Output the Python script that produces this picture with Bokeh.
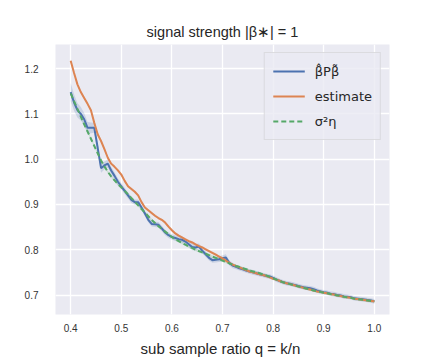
from bokeh.plotting import figure
from bokeh.models import ColumnDataSource, FixedTicker, Range1d, Legend, LegendItem, PrintfTickFormatter
from bokeh.embed import file_html
from bokeh.resources import INLINE

# sub sample ratio q = k/n, k = 60..150, n = 150
k_values = list(range(60, 151))
n_total = 150

blue_vals = [
    1.148, 1.125, 1.108, 1.100, 1.088, 1.069, 1.069, 1.069, 1.025, 0.980,
    0.986, 0.990, 0.975, 0.963, 0.950, 0.940, 0.930, 0.920, 0.910, 0.905,
    0.905, 0.893, 0.880, 0.866, 0.857, 0.856, 0.855, 0.847, 0.838, 0.832,
    0.828, 0.826, 0.823, 0.822, 0.818, 0.812, 0.806, 0.805, 0.807, 0.798,
    0.790, 0.782, 0.777, 0.778, 0.779, 0.781, 0.783, 0.771, 0.765, 0.762,
    0.759, 0.757, 0.754, 0.752, 0.750, 0.748, 0.746, 0.744, 0.742, 0.741,
    0.738, 0.734, 0.731, 0.728, 0.726, 0.725, 0.723, 0.721, 0.719, 0.717,
    0.716, 0.715, 0.713, 0.710, 0.708, 0.706, 0.705, 0.703, 0.702, 0.700,
    0.699, 0.697, 0.696, 0.695, 0.693, 0.692, 0.691, 0.690, 0.689, 0.688,
    0.686,
]
blue_err = [
    0.020, 0.018, 0.016, 0.015, 0.014, 0.013, 0.012, 0.011, 0.010, 0.010,
    0.009, 0.009, 0.008, 0.008, 0.008, 0.007, 0.007, 0.007, 0.007, 0.006,
    0.006, 0.006, 0.006, 0.006, 0.006, 0.006, 0.006, 0.006, 0.006, 0.006,
    0.006, 0.006, 0.006, 0.006, 0.006, 0.006, 0.007, 0.007, 0.007, 0.006,
    0.006, 0.006, 0.006, 0.006, 0.006, 0.007, 0.007, 0.006, 0.006, 0.005,
    0.005, 0.005, 0.005, 0.005, 0.005, 0.005, 0.005, 0.005, 0.005, 0.005,
    0.005, 0.005, 0.005, 0.005, 0.005, 0.005, 0.005, 0.005, 0.005, 0.005,
    0.005, 0.005, 0.005, 0.005, 0.005, 0.005, 0.005, 0.005, 0.005, 0.005,
    0.005, 0.005, 0.005, 0.005, 0.005, 0.005, 0.005, 0.005, 0.005, 0.005,
    0.005,
]
orange_vals = [
    1.217, 1.190, 1.165, 1.148, 1.135, 1.122, 1.108, 1.080, 1.055, 1.040,
    1.022, 1.003, 0.990, 0.983, 0.975, 0.966, 0.952, 0.940, 0.934, 0.928,
    0.920, 0.905, 0.893, 0.887, 0.881, 0.875, 0.870, 0.866, 0.860, 0.851,
    0.843, 0.836, 0.831, 0.827, 0.823, 0.819, 0.816, 0.812, 0.808, 0.805,
    0.801, 0.797, 0.793, 0.789, 0.785, 0.781, 0.776, 0.771, 0.767, 0.764,
    0.761, 0.758, 0.755, 0.752, 0.750, 0.748, 0.746, 0.744, 0.742, 0.739,
    0.736, 0.734, 0.731, 0.728, 0.726, 0.724, 0.722, 0.720, 0.718, 0.716,
    0.714, 0.712, 0.710, 0.708, 0.707, 0.705, 0.704, 0.702, 0.701, 0.699,
    0.698, 0.696, 0.695, 0.694, 0.692, 0.691, 0.690, 0.689, 0.688, 0.687,
    0.686,
]
green_vals = [
    1.145, 1.128, 1.111, 1.094, 1.077, 1.061, 1.045, 1.029, 1.013, 0.997,
    0.984, 0.972, 0.962, 0.953, 0.945, 0.938, 0.930, 0.922, 0.914, 0.906,
    0.898, 0.890, 0.882, 0.874, 0.866, 0.859, 0.852, 0.846, 0.840, 0.834,
    0.828, 0.823, 0.819, 0.815, 0.811, 0.807, 0.804, 0.800, 0.797, 0.794,
    0.791, 0.788, 0.785, 0.782, 0.779, 0.776, 0.773, 0.770, 0.767, 0.764,
    0.762, 0.759, 0.757, 0.754, 0.752, 0.750, 0.748, 0.745, 0.743, 0.740,
    0.737, 0.734, 0.731, 0.728, 0.726, 0.724, 0.722, 0.720, 0.718, 0.716,
    0.714, 0.712, 0.710, 0.708, 0.707, 0.705, 0.704, 0.702, 0.701, 0.699,
    0.698, 0.696, 0.695, 0.694, 0.692, 0.691, 0.690, 0.689, 0.688, 0.687,
    0.686,
]
line_err = 0.003

x_ticks = [0.4, 0.5, 0.6, 0.7, 0.8, 0.9, 1.0]
y_ticks = [0.7, 0.8, 0.9, 1.0, 1.1, 1.2]

title_text = "signal strength |β∗| = 1"
x_label = "sub sample ratio  q = k/n"
labels = ["β̂Pβ̃", "estimate", "σ²η"]

BLUE = "#4c72b0"
ORANGE = "#dd8452"
GREEN = "#55a868"

q = [k / n_total for k in k_values]
src = ColumnDataSource(dict(
    q=q,
    blue=blue_vals,
    blue_lo=[v - e for v, e in zip(blue_vals, blue_err)],
    blue_hi=[v + e for v, e in zip(blue_vals, blue_err)],
    orange=orange_vals,
    orange_lo=[v - line_err for v in orange_vals],
    orange_hi=[v + line_err for v in orange_vals],
    green=green_vals,
    green_lo=[v - line_err for v in green_vals],
    green_hi=[v + line_err for v in green_vals],
))

p = figure(width=432, height=360, output_backend="svg", toolbar_location=None,
           x_range=Range1d(0.37, 1.03), y_range=Range1d(0.657, 1.253),
           min_border_left=55, min_border_right=43, min_border_top=44, min_border_bottom=46,
           title=title_text)

p.background_fill_color = "#eaeaf2"
p.border_fill_color = "white"
p.outline_line_color = None

p.title.align = "center"
p.title.text_font = "Liberation Sans"
p.title.text_font_size = "14.5px"
p.title.text_font_style = "normal"
p.title.text_color = "#262626"
p.title.standoff = 10

for ax in (p.xaxis[0], p.yaxis[0]):
    ax.axis_line_color = None
    ax.major_tick_line_color = None
    ax.minor_tick_line_color = None
    ax.major_label_text_font = "Liberation Sans"
    ax.major_label_text_font_size = "10px"
    ax.major_label_text_color = "#333333"
    ax.formatter = PrintfTickFormatter(format="%.1f")

p.xaxis.ticker = FixedTicker(ticks=x_ticks)
p.yaxis.ticker = FixedTicker(ticks=y_ticks)
p.xaxis.major_label_standoff = 3
p.yaxis.major_label_standoff = 11
p.xaxis.axis_label = x_label
p.xaxis.axis_label_text_font = "Liberation Sans"
p.xaxis.axis_label_text_font_size = "15px"
p.xaxis.axis_label_text_font_style = "normal"
p.xaxis.axis_label_text_color = "#262626"
p.xaxis.axis_label_standoff = 5

p.xgrid.grid_line_color = "white"
p.ygrid.grid_line_color = "white"
p.xgrid.grid_line_width = 1.3
p.ygrid.grid_line_width = 1.3

p.varea(x="q", y1="blue_lo", y2="blue_hi", source=src, fill_color=BLUE, fill_alpha=0.2)
p.varea(x="q", y1="orange_lo", y2="orange_hi", source=src, fill_color=ORANGE, fill_alpha=0.2)
p.varea(x="q", y1="green_lo", y2="green_hi", source=src, fill_color=GREEN, fill_alpha=0.2)

r_blue = p.line(x="q", y="blue", source=src, line_color=BLUE, line_width=2)
r_orange = p.line(x="q", y="orange", source=src, line_color=ORANGE, line_width=2)
r_green = p.line(x="q", y="green", source=src, line_color=GREEN, line_width=2, line_dash="5 3")

legend = Legend(items=[
    LegendItem(label=labels[0], renderers=[r_blue]),
    LegendItem(label=labels[1], renderers=[r_orange]),
    LegendItem(label=labels[2], renderers=[r_green]),
], location="top_right")
legend.margin = 8
legend.padding = 8
legend.spacing = 5
legend.glyph_width = 32
legend.glyph_height = 20
legend.label_height = 20
legend.label_standoff = 10
legend.label_text_font = "DejaVu Sans"
legend.label_text_font_size = "13px"
legend.label_text_color = "#262626"
legend.background_fill_color = "#eaeaf2"
legend.background_fill_alpha = 0.8
legend.border_line_color = "#cccccc"
legend.border_line_width = 1
p.add_layout(legend)

open("out.html", "w").write(file_html(p, INLINE))
